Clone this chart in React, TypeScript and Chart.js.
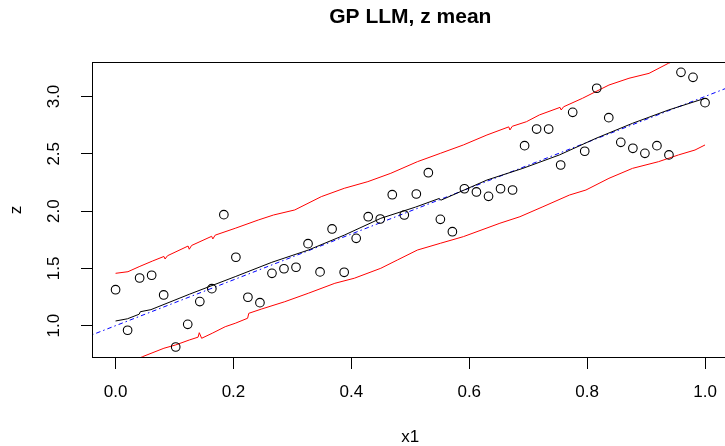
import React, { useEffect, useRef } from 'react';
import { Chart, registerables } from 'chart.js';

Chart.register(...registerables);

// Observed design points (x1, z)
const X_POINTS = [
  0, 0.0204, 0.0408, 0.0612, 0.0816, 0.102, 0.1224, 0.1429, 0.1633, 0.1837,
  0.2041, 0.2245, 0.2449, 0.2653, 0.2857, 0.3061, 0.3265, 0.3469, 0.3673, 0.3878,
  0.4082, 0.4286, 0.449, 0.4694, 0.4898, 0.5102, 0.5306, 0.551, 0.5714, 0.5918,
  0.6122, 0.6327, 0.6531, 0.6735, 0.6939, 0.7143, 0.7347, 0.7551, 0.7755, 0.7959,
  0.8163, 0.8367, 0.8571, 0.8776, 0.898, 0.9184, 0.9388, 0.9592, 0.9796, 1.0,
];
const Z_POINTS = [
  1.314, 0.96, 1.416, 1.44, 1.268, 0.814, 1.012, 1.21, 1.323, 1.969,
  1.597, 1.248, 1.201, 1.457, 1.497, 1.51, 1.716, 1.469, 1.844, 1.466,
  1.762, 1.951, 1.931, 2.143, 1.966, 2.149, 2.335, 1.928, 1.82, 2.195,
  2.167, 2.129, 2.195, 2.184, 2.571, 2.716, 2.716, 2.402, 2.862, 2.522,
  3.072, 2.815, 2.6, 2.548, 2.504, 2.571, 2.49, 3.211, 3.167, 2.946,
];

// Predictive mean (black)
const MEAN_X = [0, 0.02, 0.04, 0.042, 0.06, 0.125, 0.203, 0.265, 0.327, 0.388, 0.45, 0.509, 0.549, 0.552, 0.63, 0.691, 0.753, 0.815, 0.877, 0.938, 1.0];
const MEAN_Z = [1.041, 1.06, 1.1, 1.122, 1.14, 1.274, 1.428, 1.553, 1.66, 1.79, 1.937, 2.035, 2.11, 2.095, 2.271, 2.373, 2.49, 2.635, 2.766, 2.882, 2.984];

// Upper quantile (red)
const UPPER_X = [0, 0.021, 0.04, 0.063, 0.082, 0.084, 0.088, 0.123, 0.125, 0.129, 0.163, 0.165, 0.169, 0.203, 0.242, 0.268, 0.304, 0.349, 0.388, 0.428, 0.467, 0.512, 0.551, 0.59, 0.63, 0.667, 0.669, 0.673, 0.697, 0.719, 0.754, 0.756, 0.76, 0.792, 0.837, 0.871, 0.905, 0.938, 0.97, 1.0];
const UPPER_Z = [1.457, 1.471, 1.515, 1.565, 1.604, 1.582, 1.61, 1.695, 1.667, 1.7, 1.78, 1.757, 1.79, 1.85, 1.922, 1.966, 2.01, 2.126, 2.199, 2.257, 2.33, 2.431, 2.504, 2.577, 2.664, 2.735, 2.708, 2.74, 2.78, 2.839, 2.905, 2.882, 2.91, 2.984, 3.1, 3.159, 3.202, 3.29, 3.35, 3.41];

// Lower quantile (red)
const LOWER_X = [0, 0.046, 0.082, 0.102, 0.125, 0.14, 0.142, 0.146, 0.164, 0.186, 0.203, 0.224, 0.226, 0.248, 0.287, 0.327, 0.372, 0.405, 0.45, 0.478, 0.512, 0.551, 0.59, 0.652, 0.686, 0.725, 0.77, 0.798, 0.837, 0.877, 0.921, 0.955, 0.983, 1.0];
const LOWER_Z = [0.62, 0.73, 0.803, 0.832, 0.875, 0.9, 0.939, 0.89, 0.934, 0.991, 1.021, 1.065, 1.108, 1.146, 1.209, 1.283, 1.37, 1.414, 1.501, 1.573, 1.66, 1.719, 1.777, 1.894, 1.951, 2.038, 2.14, 2.184, 2.286, 2.373, 2.431, 2.49, 2.533, 2.577];

// True mean (blue dash-dot)
const TRUE_X = [-0.04, 1.04];
const TRUE_Z = [0.92, 3.08];

const X_TICKS = [0, 0.2, 0.4, 0.6, 0.8, 1.0];
const Y_TICKS = [1.0, 1.5, 2.0, 2.5, 3.0];

const FONT = 'Liberation Sans, Arial, Helvetica, sans-serif';

const zip = (xs: number[], ys: number[]) => xs.map((x, i) => ({ x, y: ys[i] }));

const boxPlugin = {
  id: 'plotBox',
  afterDraw(chart: any) {
    const { ctx, chartArea } = chart;
    ctx.save();
    ctx.strokeStyle = '#000';
    ctx.lineWidth = 1;
    const l = Math.round(chartArea.left) + 0.5;
    const t = Math.round(chartArea.top) + 0.5;
    const r = Math.round(chartArea.right) - 0.5;
    const b = Math.round(chartArea.bottom) - 0.5;
    ctx.strokeRect(l, t, r - l, b - t);
    ctx.restore();
  },
};

export default function App() {
  const ref = useRef<HTMLCanvasElement | null>(null);

  useEffect(() => {
    if (!ref.current) return;
    const chart = new Chart(ref.current, {
      type: 'scatter',
      data: {
        datasets: [
          {
            label: 'points',
            data: zip(X_POINTS, Z_POINTS),
            showLine: false,
            pointStyle: 'circle',
            pointRadius: 4.3,
            pointBorderWidth: 1.1,
            pointBorderColor: '#000',
            pointBackgroundColor: 'rgba(0,0,0,0)',
            clip: 0,
          },
          {
            label: 'mean',
            data: zip(MEAN_X, MEAN_Z),
            showLine: true,
            borderColor: '#000',
            borderWidth: 1,
            pointRadius: 0,
            tension: 0,
            clip: 0,
          },
          {
            label: 'upper',
            data: zip(UPPER_X, UPPER_Z),
            showLine: true,
            borderColor: '#ff0000',
            borderWidth: 1,
            pointRadius: 0,
            tension: 0,
            clip: 0,
          },
          {
            label: 'lower',
            data: zip(LOWER_X, LOWER_Z),
            showLine: true,
            borderColor: '#ff0000',
            borderWidth: 1,
            pointRadius: 0,
            tension: 0,
            clip: 0,
          },
          {
            label: 'true',
            data: zip(TRUE_X, TRUE_Z),
            showLine: true,
            borderColor: '#0000ff',
            borderWidth: 1,
            borderDash: [1.5, 3, 4.5, 3],
            pointRadius: 0,
            tension: 0,
            clip: 0,
          },
        ],
      },
      options: {
        responsive: false,
        animation: false,
        devicePixelRatio: 1,
        layout: { padding: { left: 0, right: 0, top: 0, bottom: 0 } },
        plugins: {
          legend: { display: false },
          tooltip: { enabled: false },
          title: {
            display: true,
            text: 'GP LLM, z mean',
            fullSize: false,
            color: '#000',
            font: { family: FONT, size: 21, weight: 'bold', lineHeight: 1.2 },
            padding: { top: 4.5, bottom: 32.3 },
          },
        },
        scales: {
          x: {
            type: 'linear',
            position: 'bottom',
            min: -0.04,
            max: 1.04,
            afterBuildTicks: (scale: any) => {
              scale.ticks = X_TICKS.map((v) => ({ value: v }));
            },
            afterFit: (scale: any) => {
              scale.height = 88;
            },
            ticks: {
              color: '#000',
              font: { family: FONT, size: 17 },
              padding: 13,
              maxRotation: 0,
              autoSkip: false,
              callback: (v: any) => Number(v).toFixed(1),
            },
            grid: { drawOnChartArea: false, drawTicks: true, tickLength: 11, color: '#000', lineWidth: 1 },
            border: { display: false },
            title: {
              display: true,
              text: 'x1',
              color: '#000',
              font: { family: FONT, size: 17, lineHeight: 1 },
              padding: { top: 0, bottom: 0 },
            },
          },
          y: {
            type: 'linear',
            position: 'left',
            min: 0.718,
            max: 3.301,
            afterBuildTicks: (scale: any) => {
              scale.ticks = Y_TICKS.map((v) => ({ value: v }));
            },
            afterFit: (scale: any) => {
              scale.width = 92;
            },
            ticks: {
              color: '#000',
              font: { family: FONT, size: 17 },
              padding: 15,
              minRotation: 90,
              maxRotation: 90,
              crossAlign: 'center',
              autoSkip: false,
              callback: (v: any) => Number(v).toFixed(1),
            },
            grid: { drawOnChartArea: false, drawTicks: true, tickLength: 11, color: '#000', lineWidth: 1 },
            border: { display: false },
            title: {
              display: true,
              text: 'z',
              color: '#000',
              font: { family: FONT, size: 17, lineHeight: 1 },
              padding: { top: 7.5, bottom: 0 },
            },
          },
        },
      },
      plugins: [boxPlugin],
    } as any);
    return () => chart.destroy();
  }, []);

  return (
    <div
      style={{
        position: 'fixed',
        left: 0,
        top: 0,
        width: 725,
        height: 446,
        overflow: 'hidden',
        background: '#fff',
      }}
    >
      <canvas ref={ref} width={734} height={446} style={{ width: 734, height: 446, display: 'block' }} />
    </div>
  );
}
